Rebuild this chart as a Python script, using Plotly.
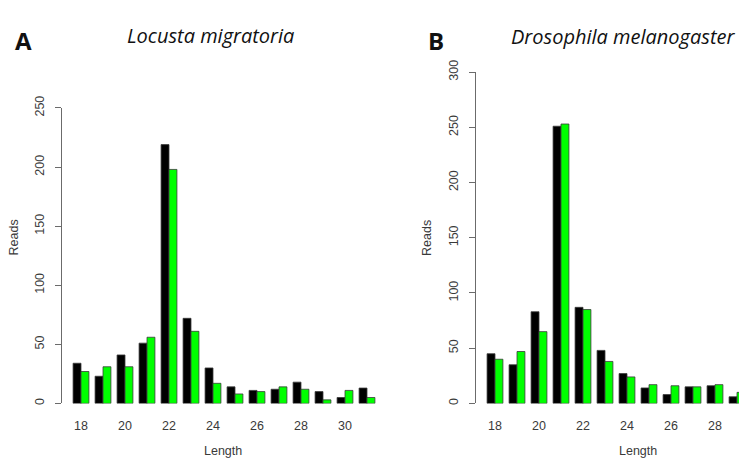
import plotly.graph_objects as go

W, H = 739, 460

lengths_a = [18, 19, 20, 21, 22, 23, 24, 25, 26, 27, 28, 29, 30, 31]
black_a = [34, 23, 41, 51, 219, 72, 30, 14, 11, 12, 18, 10, 5, 13]
green_a = [27, 31, 31, 56, 198, 61, 17, 8, 10, 14, 12, 3, 11, 5]

lengths_b = [18, 19, 20, 21, 22, 23, 24, 25, 26, 27, 28, 29]
black_b = [45, 35, 83, 251, 87, 48, 27, 14, 8, 15, 16, 6]
green_b = [40, 47, 65, 253, 85, 38, 24, 17, 16, 15, 17, 10]

ticks_a = [18, 20, 22, 24, 26, 28, 30]
ticks_b = [18, 20, 22, 24, 26, 28, 30]
yticks_a = [0, 50, 100, 150, 200, 250]
yticks_b = [0, 50, 100, 150, 200, 250, 300]

BLACK = "#000000"
GREEN = "#00ff00"
EDGE = "#3a3a3a"
AXC = "#6b6b6b"
TXT = "#3a3a3a"
FONT = "Liberation Sans, Arial, sans-serif"

fig = go.Figure()
fig.add_trace(go.Bar(x=lengths_a, y=black_a, marker=dict(color=BLACK, line=dict(color=EDGE, width=0.8)),
                     xaxis="x", yaxis="y", showlegend=False))
fig.add_trace(go.Bar(x=lengths_a, y=green_a, marker=dict(color=GREEN, line=dict(color=EDGE, width=0.8)),
                     xaxis="x", yaxis="y", showlegend=False))
fig.add_trace(go.Bar(x=lengths_b, y=black_b, marker=dict(color=BLACK, line=dict(color=EDGE, width=0.8)),
                     xaxis="x2", yaxis="y2", showlegend=False))
fig.add_trace(go.Bar(x=lengths_b, y=green_b, marker=dict(color=GREEN, line=dict(color=EDGE, width=0.8)),
                     xaxis="x2", yaxis="y2", showlegend=False))

def px_x(p):
    return p / W

def px_y(p):
    return 1 - p / H

# panel A geometry
a_left, a_right = 62, 385
a_c18, pitch = 81, 22
a_range = [18 - (a_c18 - a_left) / pitch, 18 + (a_right - a_c18) / pitch]
# panel B geometry
b_left, b_right = 475.7, 739
b_c18 = 495
b_range = [18 - (b_c18 - b_left) / pitch, 18 + (b_right - b_c18) / pitch]

y0_px = 403.7
a_top_px = 99
b_top_px = 62

TICKSIZE = 12.5
common_x = dict(showline=False, showgrid=False, zeroline=False, ticks="",
                tickfont=dict(family=FONT, size=TICKSIZE, color=TXT), ticklabelstandoff=13)
common_y = dict(showline=True, linecolor=AXC, linewidth=1, showgrid=False, zeroline=False,
                ticks="outside", ticklen=6, tickcolor=AXC, tickwidth=1, tickangle=-90,
                tickfont=dict(family=FONT, size=TICKSIZE, color=TXT), ticklabelstandoff=6)

fig.update_layout(
    width=W, height=H, margin=dict(l=0, r=0, t=0, b=0),
    paper_bgcolor="white", plot_bgcolor="white",
    barmode="group", bargap=0.28, bargroupgap=0,
    xaxis=dict(domain=[px_x(a_left), px_x(a_right)], range=a_range, anchor="y",
               tickvals=ticks_a, **common_x),
    yaxis=dict(domain=[px_y(y0_px), px_y(a_top_px)], range=[0, 250], anchor="x",
               tickvals=yticks_a, **common_y),
    xaxis2=dict(domain=[px_x(b_left), px_x(b_right)], range=b_range, anchor="y2",
                tickvals=ticks_b, **common_x),
    yaxis2=dict(domain=[px_y(y0_px), px_y(b_top_px)], range=[0, 300], anchor="x2",
                tickvals=yticks_b, **common_y),
)

def ann(text, x, y, size, family=FONT, angle=0, color=TXT):
    fig.add_annotation(text=text, x=px_x(x), y=px_y(y), xref="paper", yref="paper",
                       showarrow=False, xanchor="center", yanchor="middle", textangle=angle,
                       font=dict(family=family, size=size, color=color))

TFONT = "Open Sans, sans-serif"
ann("<b>A</b>", 23, 29, 24, family="Open Sans, sans-serif", color="#111")
ann("<b>B</b>", 436, 29, 24, family="Open Sans, sans-serif", color="#111")
ann("<i>Locusta migratoria</i>", 210, 24, 20, family=TFONT, color="#111")
ann("<i>Drosophila melanogaster</i>", 623, 25, 20, family=TFONT, color="#111")
ann("Reads", 13.5, 233, 12.5, angle=-90)
ann("Reads", 427, 233, 12.5, angle=-90)
ann("Length", 223, 453, 12.5)
ann("Length", 638, 453, 12.5)

fig.write_html("out.html")
